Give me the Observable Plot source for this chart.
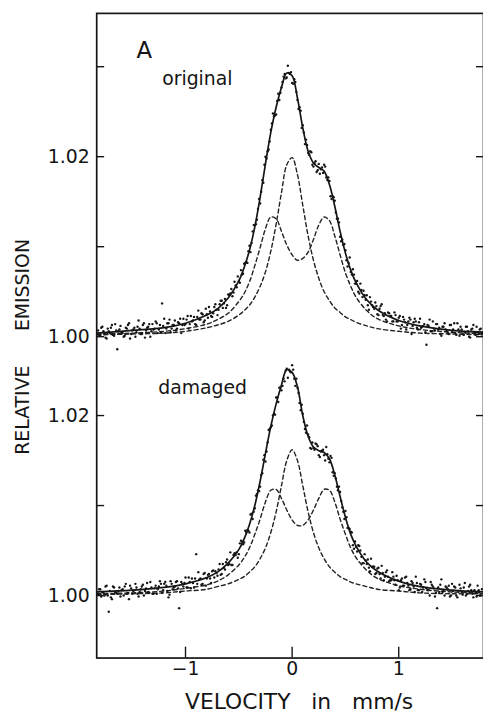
<!DOCTYPE html>
<html><head><meta charset="utf-8">
<script src="https://cdn.jsdelivr.net/npm/d3@7"></script>
<script src="https://cdn.jsdelivr.net/npm/@observablehq/plot@0.6"></script>
<style>
html,body{margin:0;padding:0;background:#fff;overflow:hidden}
#chart svg{display:block}
#chart svg text{white-space:pre}
</style></head><body><div id="chart"></div>
<script>
// Velocity channels (mm/s), first pass
const velocityChannels = [
-1.82,-1.80,-1.78,-1.76,-1.74,-1.72,-1.70,-1.68,-1.66,-1.64,
-1.62,-1.60,-1.58,-1.56,-1.54,-1.52,-1.50,-1.48,-1.46,-1.44,
-1.42,-1.40,-1.38,-1.36,-1.34,-1.32,-1.30,-1.28,-1.26,-1.24,
-1.22,-1.20,-1.18,-1.16,-1.14,-1.12,-1.10,-1.08,-1.06,-1.04,
-1.02,-1.00,-0.98,-0.96,-0.94,-0.92,-0.90,-0.88,-0.86,-0.84,
-0.82,-0.80,-0.78,-0.76,-0.74,-0.72,-0.70,-0.68,-0.66,-0.64,
-0.62,-0.60,-0.58,-0.56,-0.54,-0.52,-0.50,-0.48,-0.46,-0.44,
-0.42,-0.40,-0.38,-0.36,-0.34,-0.32,-0.30,-0.28,-0.26,-0.24,
-0.22,-0.20,-0.18,-0.16,-0.14,-0.12,-0.10,-0.08,-0.06,-0.04,
-0.02,0.00,0.02,0.04,0.06,0.08,0.10,0.12,0.14,0.16,
0.18,0.20,0.22,0.24,0.26,0.28,0.30,0.32,0.34,0.36,
0.38,0.40,0.42,0.44,0.46,0.48,0.50,0.52,0.54,0.56,
0.58,0.60,0.62,0.64,0.66,0.68,0.70,0.72,0.74,0.76,
0.78,0.80,0.82,0.84,0.86,0.88,0.90,0.92,0.94,0.96,
0.98,1.00,1.02,1.04,1.06,1.08,1.10,1.12,1.14,1.16,
1.18,1.20,1.22,1.24,1.26,1.28,1.30,1.32,1.34,1.36,
1.38,1.40,1.42,1.44,1.46,1.48,1.50,1.52,1.54,1.56,
1.58,1.60,1.62,1.64,1.66,1.68,1.70,1.72,1.74,1.76,1.78];

// Velocity channels (mm/s), second pass
const velocityChannels2 = [
-1.81,-1.79,-1.77,-1.75,-1.73,-1.71,-1.69,-1.67,-1.65,-1.63,
-1.61,-1.59,-1.57,-1.55,-1.53,-1.51,-1.49,-1.47,-1.45,-1.43,
-1.41,-1.39,-1.37,-1.35,-1.33,-1.31,-1.29,-1.27,-1.25,-1.23,
-1.21,-1.19,-1.17,-1.15,-1.13,-1.11,-1.09,-1.07,-1.05,-1.03,
-1.01,-0.99,-0.97,-0.95,-0.93,-0.91,-0.89,-0.87,-0.85,-0.83,
-0.81,-0.79,-0.77,-0.75,-0.73,-0.71,-0.69,-0.67,-0.65,-0.63,
-0.61,-0.59,-0.57,-0.55,-0.53,-0.51,-0.49,-0.47,-0.45,-0.43,
-0.41,-0.39,-0.37,-0.35,-0.33,-0.31,-0.29,-0.27,-0.25,-0.23,
-0.21,-0.19,-0.17,-0.15,-0.13,-0.11,-0.09,-0.07,-0.05,-0.03,
-0.01,0.01,0.03,0.05,0.07,0.09,0.11,0.13,0.15,0.17,
0.19,0.21,0.23,0.25,0.27,0.29,0.31,0.33,0.35,0.37,
0.39,0.41,0.43,0.45,0.47,0.49,0.51,0.53,0.55,0.57,
0.59,0.61,0.63,0.65,0.67,0.69,0.71,0.73,0.75,0.77,
0.79,0.81,0.83,0.85,0.87,0.89,0.91,0.93,0.95,0.97,
0.99,1.01,1.03,1.05,1.07,1.09,1.11,1.13,1.15,1.17,
1.19,1.21,1.23,1.25,1.27,1.29,1.31,1.33,1.35,1.37,
1.39,1.41,1.43,1.45,1.47,1.49,1.51,1.53,1.55,1.57,
1.59,1.61,1.63,1.65,1.67,1.69,1.71,1.73,1.75,1.77];

// Measured relative emission, "original" sample
const originalPoints = [
1.0007,1.0001,1.0011,1.0003,0.9998,1.0006,1.0010,1.0002,1.0014,0.9986,
1.0008,1.0005,1.0000,1.0010,1.0013,0.9998,1.0007,1.0010,1.0005,1.0018,
1.0003,1.0013,0.9999,1.0010,1.0014,1.0006,1.0008,1.0017,1.0004,1.0013,
1.0037,1.0020,1.0009,1.0015,1.0005,1.0013,1.0018,1.0009,1.0015,1.0004,
1.0020,1.0014,1.0023,1.0014,1.0017,1.0022,1.0013,1.0029,1.0019,1.0025,
1.0018,1.0025,1.0033,1.0023,1.0026,1.0036,1.0024,1.0036,1.0040,1.0037,
1.0032,1.0047,1.0048,1.0045,1.0061,1.0055,1.0062,1.0074,1.0070,1.0082,
1.0082,1.0101,1.0104,1.0124,1.0125,1.0142,1.0148,1.0174,1.0191,1.0198,
1.0208,1.0230,1.0248,1.0246,1.0262,1.0263,1.0277,1.0289,1.0287,1.0301,
1.0292,1.0282,1.0286,1.0272,1.0253,1.0251,1.0235,1.0214,1.0213,1.0202,
1.0205,1.0189,1.0195,1.0185,1.0181,1.0188,1.0191,1.0177,1.0177,1.0156,
1.0156,1.0151,1.0131,1.0127,1.0106,1.0102,1.0096,1.0078,1.0088,1.0069,
1.0069,1.0059,1.0050,1.0059,1.0044,1.0046,1.0046,1.0030,1.0039,1.0033,
1.0038,1.0025,1.0031,1.0036,1.0023,1.0019,1.0027,1.0023,1.0017,1.0027,
1.0017,1.0021,1.0009,1.0022,1.0016,1.0013,1.0021,1.0003,1.0016,1.0017,
1.0008,1.0020,1.0011,1.0014,0.9991,1.0012,1.0006,1.0017,1.0007,1.0014,
1.0010,1.0001,1.0011,1.0008,1.0004,1.0013,1.0005,1.0015,1.0002,1.0008,
1.0011,1.0003,1.0005,1.0011,1.0000,1.0008,1.0013,1.0002,1.0005,1.0008,1.0003];
const originalPoints2 = [
1.0002,1.0010,1.0006,0.9999,1.0009,1.0004,1.0013,1.0001,1.0007,1.0006,
1.0012,1.0004,1.0001,1.0009,1.0015,1.0003,1.0008,1.0000,1.0011,1.0009,
1.0003,1.0015,1.0007,1.0011,1.0000,1.0014,1.0009,1.0015,1.0008,1.0005,
1.0012,1.0004,1.0015,1.0019,1.0009,1.0013,1.0007,1.0016,1.0020,1.0013,
1.0013,1.0019,1.0009,1.0023,1.0018,1.0014,1.0022,1.0019,1.0026,1.0016,
1.0031,1.0021,1.0028,1.0022,1.0033,1.0030,1.0030,1.0040,1.0032,1.0042,
1.0035,1.0046,1.0053,1.0049,1.0057,1.0067,1.0060,1.0069,1.0081,1.0083,
1.0095,1.0094,1.0117,1.0124,1.0130,1.0153,1.0161,1.0171,1.0200,1.0206,
1.0217,1.0237,1.0245,1.0247,1.0270,1.0271,1.0283,1.0292,1.0288,1.0293,
1.0294,1.0281,1.0283,1.0263,1.0255,1.0232,1.0227,1.0219,1.0204,1.0206,
1.0191,1.0193,1.0183,1.0192,1.0186,1.0182,1.0189,1.0174,1.0173,1.0153,
1.0155,1.0138,1.0131,1.0111,1.0108,1.0103,1.0085,1.0082,1.0072,1.0075,
1.0059,1.0062,1.0048,1.0052,1.0051,1.0041,1.0035,1.0044,1.0035,1.0031,
1.0034,1.0024,1.0034,1.0024,1.0026,1.0017,1.0026,1.0023,1.0017,1.0024,
1.0017,1.0023,1.0013,1.0019,1.0008,1.0017,1.0019,1.0012,1.0020,1.0010,
1.0016,1.0010,1.0012,1.0005,1.0013,1.0019,1.0006,1.0009,1.0014,1.0008,
1.0003,1.0011,1.0015,1.0006,1.0003,1.0013,1.0008,1.0004,1.0015,1.0001,
1.0008,1.0002,1.0011,1.0006,0.9999,1.0009,1.0005,1.0011,1.0003,1.0009];

// Measured relative emission, "damaged" sample
const damagedPoints = [
1.0002,1.0007,1.0004,1.0000,1.0011,0.9982,0.9998,1.0010,1.0004,1.0002,
1.0009,1.0006,1.0000,1.0013,1.0003,1.0011,1.0002,1.0006,1.0009,0.9999,
1.0007,1.0012,1.0005,1.0014,1.0003,1.0009,1.0002,1.0011,1.0007,1.0016,
1.0003,1.0013,1.0011,0.9998,1.0016,1.0007,1.0010,1.0016,0.9986,1.0015,
1.0010,1.0020,1.0009,1.0015,1.0019,1.0009,1.0046,1.0026,1.0019,1.0013,
1.0025,1.0019,1.0024,1.0014,1.0028,1.0027,1.0022,1.0035,1.0024,1.0031,
1.0037,1.0034,1.0048,1.0034,1.0047,1.0048,1.0046,1.0061,1.0057,1.0072,
1.0073,1.0070,1.0091,1.0093,1.0111,1.0117,1.0121,1.0136,1.0156,1.0160,
1.0184,1.0187,1.0200,1.0201,1.0220,1.0231,1.0228,1.0241,1.0250,1.0242,
1.0249,1.0256,1.0241,1.0241,1.0225,1.0206,1.0202,1.0185,1.0189,1.0176,
1.0163,1.0164,1.0169,1.0166,1.0154,1.0161,1.0156,1.0165,1.0152,1.0155,
1.0137,1.0136,1.0121,1.0121,1.0105,1.0093,1.0094,1.0075,1.0074,1.0070,
1.0052,1.0054,1.0056,1.0050,1.0036,1.0046,1.0035,1.0031,1.0041,1.0032,
1.0024,1.0030,1.0024,1.0033,1.0017,1.0026,1.0021,1.0017,1.0026,1.0017,
1.0022,1.0006,1.0017,1.0011,1.0020,1.0014,1.0006,1.0016,1.0010,1.0021,
1.0006,1.0013,1.0004,1.0018,1.0008,1.0006,1.0015,1.0010,0.9999,0.9986,
1.0004,1.0018,1.0005,1.0010,1.0007,0.9999,1.0013,1.0010,1.0000,1.0005,
1.0008,1.0001,1.0014,1.0002,1.0010,1.0006,0.9998,1.0003,1.0011,1.0000,1.0007];
const damagedPoints2 = [
1.0007,0.9999,1.0003,1.0010,1.0000,1.0005,0.9996,1.0009,1.0003,1.0005,
0.9999,1.0007,1.0010,1.0002,0.9996,1.0008,1.0005,1.0013,1.0002,1.0004,
1.0010,1.0000,1.0008,1.0004,1.0015,1.0002,1.0008,1.0002,1.0010,1.0013,
1.0006,1.0015,1.0005,1.0001,1.0013,1.0009,1.0015,1.0008,1.0004,1.0013,
1.0014,1.0009,1.0020,1.0008,1.0014,1.0019,1.0013,1.0018,1.0012,1.0024,
1.0011,1.0023,1.0019,1.0027,1.0020,1.0025,1.0029,1.0023,1.0035,1.0029,
1.0040,1.0035,1.0034,1.0045,1.0045,1.0042,1.0058,1.0060,1.0059,1.0070,
1.0072,1.0090,1.0085,1.0097,1.0113,1.0116,1.0134,1.0151,1.0149,1.0170,
1.0185,1.0189,1.0202,1.0220,1.0215,1.0231,1.0233,1.0238,1.0252,1.0251,
1.0248,1.0251,1.0233,1.0231,1.0214,1.0212,1.0193,1.0181,1.0179,1.0164,
1.0170,1.0162,1.0168,1.0156,1.0160,1.0162,1.0150,1.0157,1.0148,1.0153,
1.0133,1.0130,1.0117,1.0115,1.0098,1.0085,1.0087,1.0075,1.0071,1.0056,
1.0060,1.0049,1.0055,1.0043,1.0036,1.0039,1.0040,1.0027,1.0032,1.0032,
1.0025,1.0031,1.0019,1.0025,1.0021,1.0028,1.0016,1.0017,1.0021,1.0012,
1.0017,1.0009,1.0019,1.0011,1.0021,1.0011,1.0007,1.0014,1.0004,1.0014,
1.0006,1.0012,1.0009,1.0015,1.0006,1.0000,1.0012,1.0008,1.0003,1.0009,
1.0012,1.0004,1.0000,1.0009,1.0011,1.0000,1.0005,1.0009,0.9998,1.0012,
1.0004,1.0009,1.0000,1.0005,1.0012,1.0002,1.0006,0.9999,1.0006,1.0000];

// Fitted curves, sampled velocities (mm/s)
const fitVelocity = [-1.83,-1.5,-1.2,-1.0,-0.8,-0.7,-0.6,-0.5,-0.45,-0.4,-0.35,-0.3,-0.25,-0.2,-0.15,-0.1,-0.05,0,
  0.05,0.1,0.15,0.2,0.25,0.3,0.35,0.4,0.45,0.5,0.55,0.6,0.7,0.8,1.0,1.2,1.5,1.8];
const originalFit = [1.0004,1.0007,1.0010,1.0015,1.0024,1.0031,1.0043,1.0062,1.0077,1.0096,1.0122,1.0155,1.0192,1.0227,1.0255,1.0277,1.0293,1.0290,
  1.0265,1.0232,1.0206,1.0193,1.0188,1.0184,1.0169,1.0145,1.0117,1.0093,1.0074,1.0060,1.0041,1.0030,1.0018,1.0012,1.0007,1.0005];
const originalSinglet = [1.0002,1.0003,1.0004,1.0006,1.0010,1.0013,1.0017,1.0024,1.0029,1.0035,1.0044,1.0056,1.0072,1.0095,1.0125,1.0160,1.0191,1.0199,
  1.0180,1.0146,1.0112,1.0085,1.0065,1.0050,1.0040,1.0032,1.0027,1.0022,1.0019,1.0016,1.0012,1.0009,1.0006,1.0004,1.0003,1.0002];
const originalDoublet = [1.0003,1.0004,1.0006,1.0009,1.0014,1.0019,1.0026,1.0039,1.0048,1.0061,1.0079,1.0099,1.0120,1.0133,1.0131,1.0117,1.0102,1.0091,
  1.0085,1.0087,1.0094,1.0108,1.0124,1.0133,1.0129,1.0112,1.0091,1.0071,1.0056,1.0044,1.0029,1.0020,1.0012,1.0008,1.0005,1.0003];
const damagedFit = [1.0004,1.0006,1.0009,1.0013,1.0020,1.0026,1.0036,1.0051,1.0063,1.0079,1.0100,1.0127,1.0158,1.0188,1.0213,1.0234,1.0251,1.0248,
  1.0232,1.0200,1.0177,1.0165,1.0161,1.0159,1.0152,1.0134,1.0110,1.0087,1.0068,1.0055,1.0037,1.0027,1.0016,1.0010,1.0006,1.0004];
const damagedSinglet = [1.0001,1.0002,1.0003,1.0005,1.0007,1.0010,1.0013,1.0018,1.0021,1.0026,1.0032,1.0041,1.0053,1.0070,1.0093,1.0122,1.0150,1.0162,
  1.0150,1.0122,1.0093,1.0070,1.0053,1.0041,1.0032,1.0026,1.0021,1.0018,1.0015,1.0013,1.0010,1.0007,1.0005,1.0003,1.0002,1.0002];
const damagedDoublet = [1.0002,1.0003,1.0005,1.0008,1.0012,1.0016,1.0023,1.0034,1.0042,1.0053,1.0068,1.0085,1.0104,1.0117,1.0118,1.0108,1.0095,1.0084,
  1.0078,1.0078,1.0084,1.0095,1.0108,1.0118,1.0117,1.0104,1.0085,1.0068,1.0053,1.0042,1.0028,1.0019,1.0011,1.0007,1.0004,1.0003];

// Axes
const xTicks = [-1, 0, 1];
const xTickLabels = ["\u22121", "0", "1"];
const yTicksOriginal = [1.00, 1.01, 1.02, 1.03];
const yTicksDamaged = [1.00, 1.01, 1.02];
const yLabelValues = [1.00, 1.02];
const yLabelTexts = ["1.00", "1.02"];
const panelLabel = "A";
const originalLabel = "original";
const damagedLabel = "damaged";
const xTitle = "VELOCITY   in   mm/s";
const yTitleWords = ["RELATIVE", "EMISSION"];

// Vertical stacking of the two spectra in one frame
const OFFSET = 0.02876;
const up = v => v + OFFSET;

const tickPositions = [...yTicksOriginal.map(up), ...yTicksDamaged];
const labelRows = [
  ...yLabelValues.map((v, i) => ({pos: up(v), text: yLabelTexts[i]})),
  ...yLabelValues.map((v, i) => ({pos: v, text: yLabelTexts[i]}))
];
// centre of each word of the vertical title, on the y scale
const yTitleRows = [{pos: 1.0206, text: yTitleWords[0]}, {pos: 1.0345, text: yTitleWords[1]}];

const ink = "#151515";
const dash = {stroke: "#222", strokeWidth: 1.4, strokeDasharray: "4,3", curve: "catmull-rom"};
const dotStyle = {r: 1.2, fill: ink, stroke: null};

const chart = Plot.plot({
  width: 487, height: 727,
  marginLeft: 97, marginRight: 0, marginTop: 13, marginBottom: 64,
  style: {fontFamily: "'DejaVu Sans', sans-serif", fontSize: "19px", color: ink, background: "#fff"},
  x: {domain: [-1.833, 1.795]},
  y: {domain: [0.993058, 1.064683]},
  marks: [
    // dashed components
    Plot.line(fitVelocity, {x: d => d, y: (d, i) => up(originalSinglet[i]), ...dash}),
    Plot.line(fitVelocity, {x: d => d, y: (d, i) => up(originalDoublet[i]), ...dash}),
    Plot.line(fitVelocity, {x: d => d, y: (d, i) => damagedSinglet[i], ...dash}),
    Plot.line(fitVelocity, {x: d => d, y: (d, i) => damagedDoublet[i], ...dash}),
    // measured points
    Plot.dot(velocityChannels, {x: d => d, y: (d, i) => up(originalPoints[i]), ...dotStyle}),
    Plot.dot(velocityChannels2, {x: d => d, y: (d, i) => up(originalPoints2[i]), ...dotStyle}),
    Plot.dot(velocityChannels, {x: d => d, y: (d, i) => damagedPoints[i], ...dotStyle}),
    Plot.dot(velocityChannels2, {x: d => d, y: (d, i) => damagedPoints2[i], ...dotStyle}),
    // fits
    Plot.line(fitVelocity, {x: d => d, y: (d, i) => up(originalFit[i]), stroke: ink, strokeWidth: 1.7, curve: "catmull-rom"}),
    Plot.line(fitVelocity, {x: d => d, y: (d, i) => damagedFit[i], stroke: ink, strokeWidth: 1.7, curve: "catmull-rom"}),
    // frame and ticks
    Plot.frame({stroke: ink, strokeWidth: 1.7}),
    Plot.axisY({anchor: "left", ticks: tickPositions, tickSize: -8, tickFormat: () => "", label: null, strokeWidth: 1.4, stroke: ink}),
    Plot.axisY({anchor: "right", ticks: tickPositions, tickSize: -8, tickFormat: () => "", label: null, strokeWidth: 1.4, stroke: ink}),
    Plot.axisX({anchor: "bottom", ticks: xTicks, tickSize: -11, tickFormat: () => "", label: null, strokeWidth: 1.4, stroke: ink}),
    // tick labels
    Plot.text(xTicks, {x: d => d, frameAnchor: "bottom", dy: 17, text: (d, i) => xTickLabels[i], fontSize: 19, fill: ink}),
    Plot.text(labelRows, {frameAnchor: "left", y: "pos", text: "text", textAnchor: "end", dx: -7, fontSize: 19, fill: ink}),
    // titles
    Plot.text([xTitle], {frameAnchor: "bottom", text: d => d, dx: 9, dy: 51, fontSize: 22, fill: ink}),
    Plot.text(yTitleRows, {frameAnchor: "left", y: "pos", text: "text", rotate: -90, textAnchor: "middle", dx: -74, fontSize: 19, fill: ink}),
    // annotations
    Plot.text([panelLabel], {x: -1.46, y: up(1.0310), text: d => d, textAnchor: "start", lineAnchor: "bottom", fontSize: 23, fill: ink}),
    Plot.text([originalLabel], {x: -1.219, y: up(1.0280), text: d => d, textAnchor: "start", lineAnchor: "bottom", fontSize: 19, fill: ink}),
    Plot.text([damagedLabel], {x: -1.256, y: 1.0224, text: d => d, textAnchor: "start", lineAnchor: "bottom", fontSize: 19, fill: ink})
  ]
});

document.getElementById("chart").appendChild(chart);

// fit the x title to the length seen in the figure
d3.select(chart).selectAll("text").each(function () {
  if (this.textContent === xTitle) d3.select(this).attr("xml:space", "preserve").attr("textLength", 230).attr("lengthAdjust", "spacingAndGlyphs");
});
</script>
</body></html>
